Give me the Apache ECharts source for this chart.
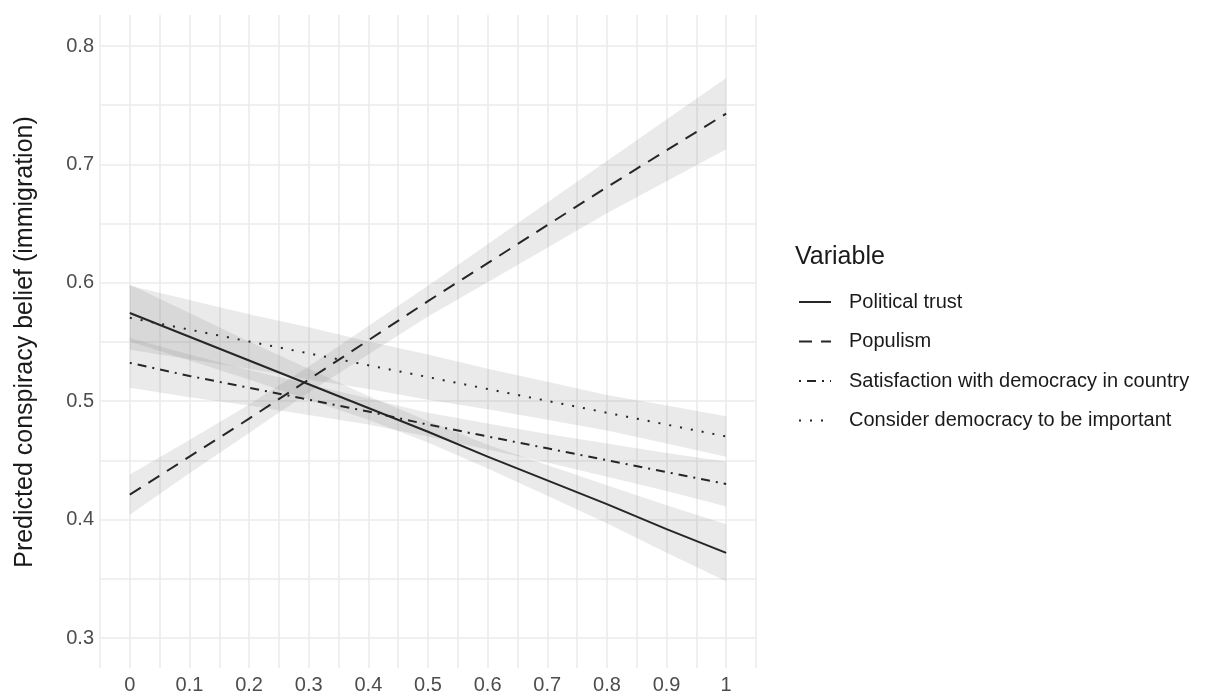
<!DOCTYPE html>
<html>
<head>
<meta charset="utf-8">
<script src="https://cdn.jsdelivr.net/npm/echarts@6/dist/echarts.min.js"></script>
<style>
html,body{margin:0;padding:0;background:#fff;}
#chart{width:1212px;height:696px;}
</style>
</head>
<body>
<div id="chart"></div>
<script>
// x positions (0 .. 1)
const xValues = [0, 0.1, 0.2, 0.3, 0.4, 0.5, 0.6, 0.7, 0.8, 0.9, 1];
const xTickLabels = ['0', '0.1', '0.2', '0.3', '0.4', '0.5', '0.6', '0.7', '0.8', '0.9', '1'];
const yTickLabels = ['0.3', '0.4', '0.5', '0.6', '0.7', '0.8'];
const seriesNames = ['Political trust', 'Populism', 'Satisfaction with democracy in country', 'Consider democracy to be important'];

// Political trust
const trustFit = [0.574, 0.554, 0.534, 0.514, 0.494, 0.474, 0.453, 0.433, 0.413, 0.392, 0.372];
const trustLo  = [0.550, 0.534, 0.518, 0.501, 0.484, 0.465, 0.443, 0.420, 0.397, 0.372, 0.348];
const trustHi  = [0.598, 0.574, 0.550, 0.527, 0.504, 0.483, 0.463, 0.446, 0.429, 0.412, 0.396];
// Populism
const popFit = [0.421, 0.453, 0.485, 0.518, 0.551, 0.584, 0.616, 0.648, 0.680, 0.711, 0.742];
const popLo  = [0.404, 0.439, 0.473, 0.507, 0.539, 0.571, 0.600, 0.629, 0.658, 0.685, 0.712];
const popHi  = [0.438, 0.467, 0.497, 0.529, 0.563, 0.597, 0.632, 0.667, 0.702, 0.737, 0.772];
// Satisfaction with democracy in country
const satFit = [0.532, 0.521, 0.511, 0.501, 0.491, 0.480, 0.470, 0.460, 0.450, 0.440, 0.430];
const satLo  = [0.511, 0.503, 0.496, 0.488, 0.480, 0.470, 0.459, 0.448, 0.436, 0.424, 0.411];
const satHi  = [0.553, 0.539, 0.526, 0.514, 0.502, 0.490, 0.481, 0.472, 0.464, 0.456, 0.449];
// Consider democracy to be important
const impFit = [0.570, 0.560, 0.550, 0.540, 0.530, 0.520, 0.510, 0.500, 0.490, 0.480, 0.470];
const impLo  = [0.543, 0.535, 0.527, 0.518, 0.510, 0.501, 0.493, 0.484, 0.475, 0.464, 0.453];
const impHi  = [0.597, 0.585, 0.573, 0.562, 0.550, 0.539, 0.527, 0.516, 0.505, 0.496, 0.487];

const FONT = "'Liberation Sans', Arial, sans-serif";
const LINE_COLOR = '#262626';
const GRID_COLOR = '#ebebeb';
const BAND_COLOR = 'rgba(128,128,128,0.17)';

const variables = [
  {name: seriesNames[0], fit: trustFit, lo: trustLo, hi: trustHi, dash: 'solid'},
  {name: seriesNames[1], fit: popFit, lo: popLo, hi: popHi, dash: [13, 9]},
  {name: seriesNames[2], fit: satFit, lo: satLo, hi: satHi, dash: [2, 6, 9, 6]},
  {name: seriesNames[3], fit: impFit, lo: impLo, hi: impHi, dash: [2, 9]}
];

const pairs = arr => arr.map((v, i) => [xValues[i], v]);

const series = [];
variables.forEach((v, k) => {
  const bandData = xValues.map((x, i) => [x, v.lo[i], v.hi[i]]);
  series.push({
    type: 'custom', name: 'band' + k,
    xAxisIndex: 0, yAxisIndex: 0,
    data: bandData, silent: true, z: 1,
    encode: {x: 0, y: [1, 2]},
    renderItem: function (params, api) {
      if (params.dataIndex !== 0) return null;
      const pts = [];
      for (let i = 0; i < bandData.length; i++) pts.push(api.coord([bandData[i][0], bandData[i][2]]));
      for (let i = bandData.length - 1; i >= 0; i--) pts.push(api.coord([bandData[i][0], bandData[i][1]]));
      return {
        type: 'polygon',
        shape: {points: pts},
        style: {fill: BAND_COLOR, stroke: null}
      };
    }
  });
});
variables.forEach(v => {
  series.push({
    type: 'line', name: v.name,
    xAxisIndex: 0, yAxisIndex: 0,
    data: pairs(v.fit), symbol: 'none',
    lineStyle: {color: LINE_COLOR, width: 2, type: v.dash},
    itemStyle: {color: LINE_COLOR}, z: 5
  });
});

const chart = echarts.init(document.getElementById('chart'), null, {renderer: 'canvas'});
chart.setOption({
  animation: false,
  backgroundColor: '#ffffff',
  textStyle: {fontFamily: FONT},
  title: {
    text: 'Variable', left: 790, top: 240, padding: 5,
    textStyle: {fontFamily: FONT, fontSize: 25, fontWeight: 'normal', color: '#1a1a1a'}
  },
  legend: {
    data: seriesNames,
    orient: 'vertical', left: 798, top: 292, padding: 0,
    itemWidth: 32, itemHeight: 20, itemGap: 19.5,
    itemStyle: {opacity: 0},
    lineStyle: {width: 2},
    textStyle: {fontFamily: FONT, fontSize: 20, color: '#1a1a1a', padding: [0, 0, 0, 13]},
    selectedMode: false
  },
  grid: [
    {left: 100, top: 15, width: 656, height: 653, containLabel: false},
    {left: 100, top: 46, width: 656, height: 592, containLabel: false}
  ],
  xAxis: [
    {
      type: 'value', gridIndex: 0, min: -0.05, max: 1.05, interval: 0.05,
      axisLine: {show: false}, axisTick: {show: false},
      splitLine: {show: true, lineStyle: {color: GRID_COLOR, width: 1.6}},
      axisLabel: {
        margin: 7, fontSize: 20, color: '#4d4d4d', fontFamily: FONT,
        showMinLabel: true, showMaxLabel: true,
        formatter: function (val) {
          const r = Math.round(val * 100);
          if (r < 0 || r > 100 || r % 10 !== 0) return '';
          return xTickLabels[r / 10];
        }
      }
    },
    {
      type: 'value', gridIndex: 1, min: -0.05, max: 1.05, show: false,
      splitLine: {show: false}
    }
  ],
  yAxis: [
    {
      type: 'value', gridIndex: 0, min: 0.275, max: 0.825, show: false,
      splitLine: {show: false}
    },
    {
      type: 'value', gridIndex: 1, min: 0.3, max: 0.8, interval: 0.05,
      axisLine: {show: false}, axisTick: {show: false},
      splitLine: {show: true, lineStyle: {color: GRID_COLOR, width: 1.6}},
      axisLabel: {
        margin: 6, fontSize: 20, color: '#4d4d4d', fontFamily: FONT,
        formatter: function (val) {
          const r = Math.round(val * 100);
          if (r % 10 !== 0) return '';
          return yTickLabels[(r - 30) / 10];
        }
      },
      name: 'Predicted conspiracy belief (immigration)',
      nameLocation: 'middle', nameGap: 62,
      nameTextStyle: {fontFamily: FONT, fontSize: 25, color: '#1a1a1a'}
    }
  ],
  series: series
});
</script>
</body>
</html>
